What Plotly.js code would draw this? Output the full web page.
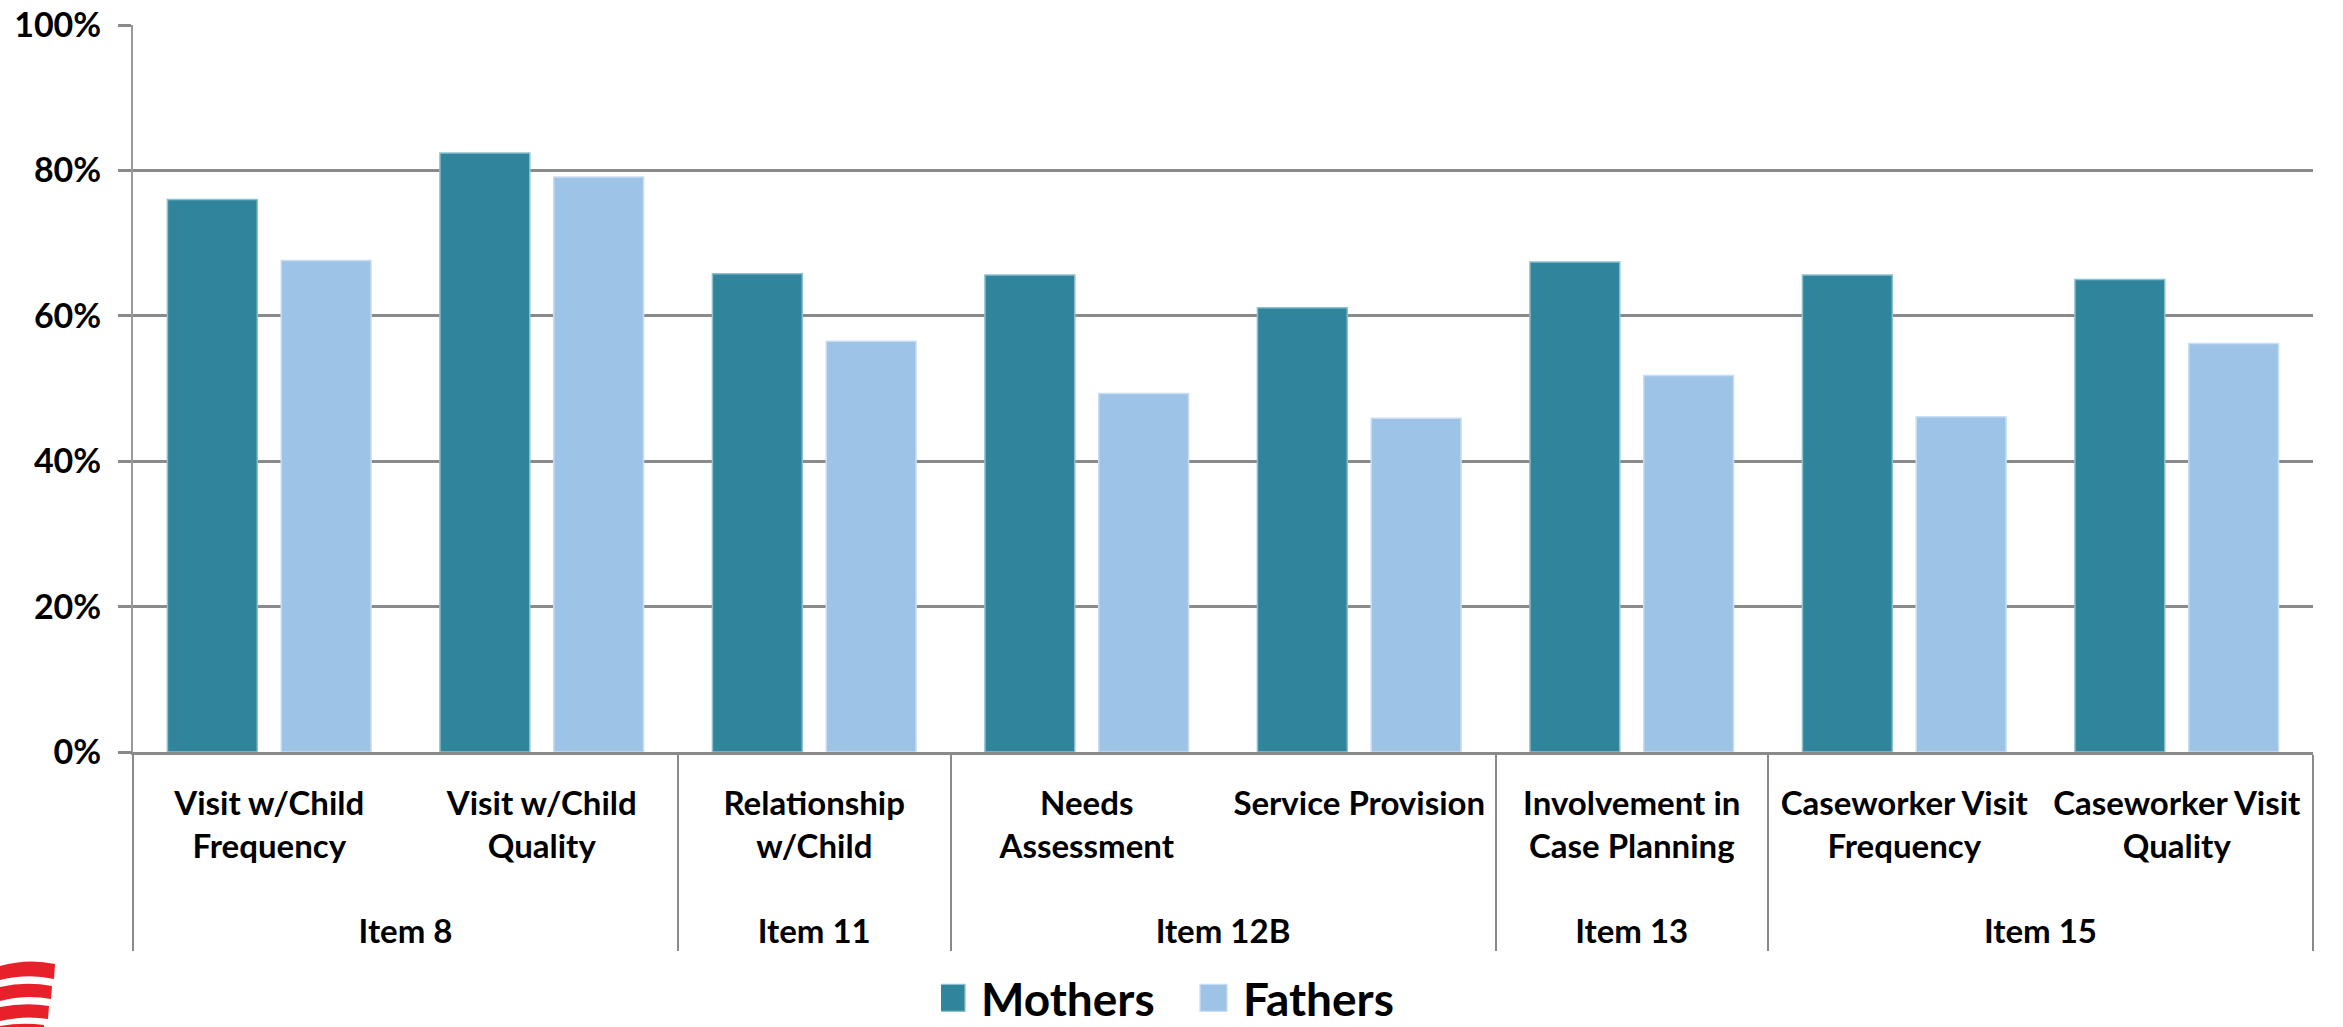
<!DOCTYPE html>
<html>
<head>
<meta charset="utf-8">
<script src="https://cdn.plot.ly/plotly-3.0.1.min.js"></script>
<style>html,body{margin:0;padding:0;background:#fff;}#chart{width:2343px;height:1027px;}</style>
</head>
<body>
<div id="chart"></div>
<script>
// ---- data ----
const groups = ["Item 8", "Item 8", "Item 11", "Item 12B", "Item 12B", "Item 13", "Item 15", "Item 15"];
const measures = ["Visit w/Child<br>Frequency", "Visit w/Child<br>Quality", "Relationship<br>w/Child", "Needs<br>Assessment", "Service Provision", "Involvement in<br>Case Planning", "Caseworker Visit<br>Frequency", "Caseworker Visit<br>Quality"];
const mothers = [76.0, 82.4, 65.8, 65.6, 61.1, 67.4, 65.6, 65.0];
const fathers = [67.6, 79.1, 56.5, 49.3, 45.9, 51.8, 46.1, 56.2];
const seriesNames = ["Mothers", "Fathers"];
const yTicks = [0, 20, 40, 60, 80, 100];

// ---- layout geometry (pixels) ----
const W = 2343, H = 1027;
const M = {l: 133, r: 30, t: 25, b: 275, autoexpand: false};
const pw = W - M.l - M.r, ph = H - M.t - M.b;
const px = x => (x - M.l) / pw;
const py = y => (H - M.b - y) / ph;

function pathPx(cmds) {
  return cmds.map(c => {
    const l = c[0]; const v = c.slice(1);
    const out = [];
    for (let i = 0; i < v.length; i += 2) out.push(px(v[i]).toFixed(5) + "," + py(v[i + 1]).toFixed(5));
    return l + out.join(" ");
  }).join(" ") + " Z";
}

const red = "#e8202a";
const logoShapes = [
  [["M", 0, 966], ["Q", 28, 958, 55, 964], ["L", 54, 979], ["Q", 28, 973, 0, 980]],
  [["M", 0, 987], ["Q", 26, 981, 52, 986], ["L", 51, 999], ["Q", 26, 994, 0, 1001]],
  [["M", 0, 1007], ["Q", 25, 1002, 49, 1006], ["L", 48, 1019], ["Q", 25, 1015, 0, 1021]],
  [["M", 0, 1026], ["Q", 22, 1022, 44, 1025], ["L", 44, 1030], ["L", 0, 1030]]
].map(p => ({type: "path", xref: "paper", yref: "paper", path: pathPx(p), fillcolor: red, line: {width: 0}, layer: "above"}));

const font = "Lato, 'Open Sans', sans-serif";

// category labels get a trailing blank (taller) line so the group row sits lower
const spacer = "<br><span style='font-size:86px'>\u00a0</span>";
const x = [groups, measures.map(m => m + spacer)];
const traces = [
  {type: "bar", name: seriesNames[0], x: x, y: mothers,
   marker: {color: "#30849b", line: {color: "#8cc0cf", width: 1.5}}},
  {type: "bar", name: seriesNames[1], x: x, y: fathers,
   marker: {color: "#9dc3e6", line: {color: "#c9def2", width: 1.5}}}
];

const layout = {
  width: W, height: H,
  margin: M,
  paper_bgcolor: "#fff", plot_bgcolor: "#fff",
  barmode: "group", bargap: 0.165, bargroupgap: 0.21,
  font: {family: font, color: "#000"},
  showlegend: true,
  legend: {orientation: "h", x: px(941), xanchor: "left", y: py(998), yanchor: "middle",
           entrywidth: 217, entrywidthmode: "pixels",
           font: {family: font, size: 46, weight: "bold", color: "#000"}, itemwidth: 30, traceorder: "normal"},
  xaxis: {type: "multicategory", showgrid: false, showline: true, linecolor: "#8a8a8a", linewidth: 3,
          ticks: "", showdividers: true, dividercolor: "#8a8a8a", dividerwidth: 2,
          ticklabelstandoff: 20,
          tickfont: {family: font, size: 33, weight: "bold", color: "#000"}},
  yaxis: {range: [0, 100], tickvals: yTicks, ticktext: yTicks.map(v => v + "%"),
          showgrid: true, gridcolor: "#8a8a8a", gridwidth: 3, zeroline: false,
          showline: true, linecolor: "#9a9a9a", linewidth: 2,
          ticks: "outside", ticklen: 13, tickwidth: 3, tickcolor: "#8a8a8a",
          ticklabelstandoff: 10,
          tickfont: {family: font, size: 34, weight: "bold", color: "#000"}},
  shapes: logoShapes
};

Plotly.newPlot("chart", traces, layout, {displayModeBar: false, staticPlot: true}).then(() => {
  document.querySelectorAll(".legendpoints path").forEach(p => {
    const t = p.getAttribute("transform") || "";
    p.setAttribute("transform", t + " translate(-9.5,0) scale(2.25)");
    p.style.strokeWidth = "0.6px";
  });
});
</script>
</body>
</html>
